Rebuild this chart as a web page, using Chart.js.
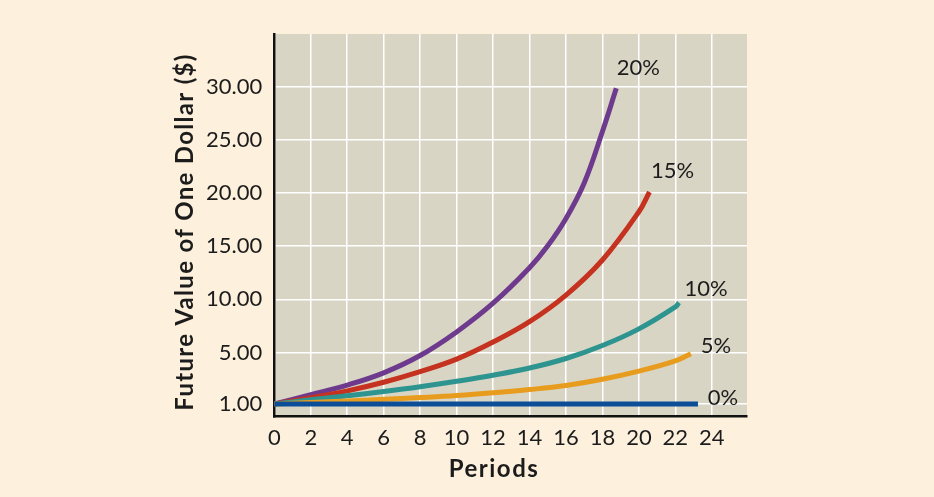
<!DOCTYPE html>
<html>
<head>
<meta charset="utf-8">
<title>Future Value of One Dollar</title>
<script src="https://cdn.jsdelivr.net/npm/chart.js@4.4.1/dist/chart.umd.min.js"></script>
<style>
  html, body { margin: 0; padding: 0; background: #fdf0dc; }
  #wrap { width: 934px; height: 497px; position: relative; }
</style>
</head>
<body>
<div id="wrap"><canvas id="fvChart"></canvas></div>
<script>
// ─── DATA ─────────────────────────────────────────────────────────────────
const PERIOD_TICKS = [0, 2, 4, 6, 8, 10, 12, 14, 16, 18, 20, 22, 24];
const VALUE_TICKS  = [1, 5, 10, 15, 20, 25, 30];

const SERIES_LABELS = ["0%", "5%", "10%", "15%", "20%"];

const rate0Periods  = [0, 23.24];
const rate0Values   = [1.00, 1.00];

const rate5Periods  = [0, 2, 4, 6, 8, 10, 12, 14, 16, 18, 20, 22, 22.85];
const rate5Values   = [1.00, 1.12, 1.24, 1.36, 1.50, 1.66, 1.87, 2.12, 2.44, 2.92, 3.55, 4.34, 4.90];

const rate10Periods = [0, 2, 4, 6, 8, 10, 12, 14, 16, 18, 20, 22, 22.2];
const rate10Values  = [1.00, 1.33, 1.64, 1.97, 2.34, 2.76, 3.23, 3.79, 4.53, 5.65, 7.22, 9.29, 9.69];

const rate15Periods = [0, 2, 4, 6, 8, 10, 12, 14, 16, 18, 20, 20.58];
const rate15Values  = [1.00, 1.49, 2.02, 2.69, 3.51, 4.48, 5.98, 7.90, 10.4, 13.7, 18.24, 20.1];

const rate20Periods = [0, 2, 4, 6, 8, 10, 12, 14, 15, 16, 17, 18, 18.76];
const rate20Values  = [1.00, 1.73, 2.47, 3.42, 4.76, 6.93, 9.63, 12.97, 15.04, 17.61, 20.95, 25.79, 29.85];

// ─── STYLE ────────────────────────────────────────────────────────────────
const SERIES_COLORS = ["#0b4d96", "#e89c1e", "#2e9490", "#c5321f", "#6d3a8d"];
// where each percentage label sits, relative to the end of its curve (px)
const LABEL_OFFSETS = [[25, -6], [25, -8], [27, -14], [23, -21], [22, -20]];

const FONT = "Lato, 'Open Sans', sans-serif";
const TEXT_COLOR = "#1c1c1c";
const PLOT_BG = "#d8d5c4";

// ─── SCALE: the printed figure stretches the band from 1.00 to 5.00 ──────
const stretch = v => (v < 5 ? 0.15 + (v - 1) * 1.2126 : v);
const unstretch = w => (w < 5 ? 1 + (w - 0.15) / 1.2126 : w);

class StretchedScale extends Chart.LinearScale {
  getPixelForValue(value) {
    if (value === null || value === undefined) return NaN;
    return super.getPixelForValue(stretch(value));
  }
  getValueForPixel(pixel) {
    return unstretch(super.getValueForPixel(pixel));
  }
}
StretchedScale.id = "stretched";
StretchedScale.defaults = Chart.LinearScale.defaults;
Chart.register(StretchedScale);

// ─── PLUGINS ──────────────────────────────────────────────────────────────
const plotBackground = {
  id: "plotBackground",
  beforeDraw(chart) {
    const { ctx, chartArea: a } = chart;
    ctx.save();
    ctx.fillStyle = PLOT_BG;
    ctx.fillRect(a.left, a.top, a.right - a.left, a.bottom - a.top);
    ctx.restore();
  }
};

const endLabels = {
  id: "endLabels",
  afterDatasetsDraw(chart) {
    const ctx = chart.ctx;
    ctx.save();
    ctx.font = `22px ${FONT}`;
    ctx.fillStyle = TEXT_COLOR;
    ctx.textAlign = "center";
    ctx.textBaseline = "middle";
    chart.data.datasets.forEach((ds, i) => {
      const pts = chart.getDatasetMeta(i).data;
      const last = pts[pts.length - 1];
      const [dx, dy] = LABEL_OFFSETS[i];
      ctx.fillText(ds.label, last.x + dx, last.y + dy);
    });
    ctx.restore();
  }
};

const axisTitles = {
  id: "axisTitles",
  afterDraw(chart) {
    const ctx = chart.ctx;
    ctx.save();
    ctx.fillStyle = TEXT_COLOR;
    ctx.textAlign = "center";
    ctx.textBaseline = "middle";
    ctx.font = `bold 24px ${FONT}`;
    ctx.letterSpacing = "1.5px";
    ctx.fillText("Periods", 494, 469);
    ctx.letterSpacing = "1.3px";
    ctx.translate(185, 232);
    ctx.rotate(-Math.PI / 2);
    ctx.fillText("Future Value of One Dollar ($)", 0, 0);
    ctx.restore();
  }
};

// ─── CHART ────────────────────────────────────────────────────────────────
const seriesPeriods = [rate0Periods, rate5Periods, rate10Periods, rate15Periods, rate20Periods];
const seriesValues  = [rate0Values, rate5Values, rate10Values, rate15Values, rate20Values];

const datasets = SERIES_LABELS.map((label, i) => ({
  label,
  data: seriesPeriods[i].map((p, j) => ({ x: p, y: seriesValues[i][j] })),
  borderColor: SERIES_COLORS[i],
  borderWidth: 5,
  pointRadius: 0,
  tension: 0.4,
  fill: false
}));

new Chart(document.getElementById("fvChart"), {
  type: "line",
  data: { datasets },
  plugins: [plotBackground, endLabels, axisTitles],
  options: {
    responsive: true,
    maintainAspectRatio: false,
    animation: false,
    layout: { padding: { top: 34, right: 187, left: 0, bottom: 0 } },
    plugins: {
      legend: { display: false },
      tooltip: { enabled: false }
    },
    scales: {
      x: {
        type: "linear",
        min: 0,
        max: 25.93,
        afterBuildTicks: axis => { axis.ticks = PERIOD_TICKS.map(v => ({ value: v })); },
        afterFit: axis => { axis.height = 80.3; },
        grid: { color: "#ffffff", lineWidth: 1.5, drawTicks: false },
        border: { display: true, color: "#111111", width: 2.5 },
        ticks: {
          color: TEXT_COLOR,
          font: { family: FONT, size: 22 },
          padding: 8,
          maxRotation: 0,
          callback: v => String(v)
        }
      },
      y: {
        type: "stretched",
        min: -1.044,
        max: 34.96,
        afterBuildTicks: axis => { axis.ticks = VALUE_TICKS.map(v => ({ value: v })); },
        afterFit: axis => { axis.width = 274.3; },
        grid: { color: "#ffffff", lineWidth: 1.5, drawTicks: false },
        border: { display: true, color: "#111111", width: 2.5 },
        ticks: {
          color: TEXT_COLOR,
          font: { family: FONT, size: 22 },
          padding: 12,
          callback: v => Number(v).toFixed(2)
        }
      }
    }
  }
});
</script>
</body>
</html>
